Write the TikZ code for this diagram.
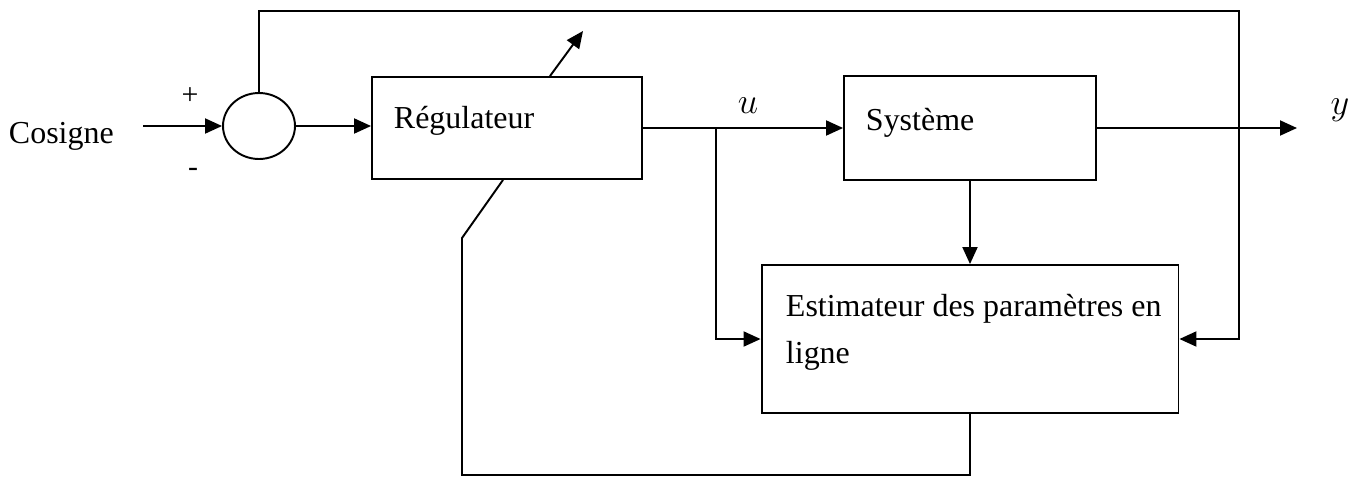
\documentclass[tikz,border=0pt]{standalone}
\usepackage{fontspec}
\setmainfont{Liberation Serif}
\usetikzlibrary{shapes.geometric,arrows.meta}
\tikzset{
  bloc/.style={draw, line width=1.1pt, fill=white, inner sep=0pt},
  txt/.style={anchor=base west, inner sep=0pt},
  fleche/.style={-{Triangle[length=0.34cm,width=0.3cm]}},
}
\begin{document}
\begin{tikzpicture}[x=0.02cm,y=-0.02cm,line width=1.1pt]
    \useasboundingbox (0,0) rectangle (1360,481);
    \fontsize{18.2}{24}\selectfont
    \node[draw,ellipse,minimum width=1.44cm,minimum height=1.32cm,inner sep=0pt] (sum) at (259,126){};
    \node[bloc,minimum width=5.4cm,minimum height=2.04cm] (reg) at (507,128){};
    \node[bloc,minimum width=5.04cm,minimum height=2.08cm] (sys) at (970,128){};
    \node[bloc,minimum width=8.34cm,minimum height=2.96cm] (est) at (970,339){};

    \node[txt] (cons) at (8,143){Cosigne};
    \node[txt] (regtxt) at (393,128){Régulateur};
    \node[txt] (systxt) at (865,130){Système};
    \node[txt] (esttxt) at (785,316){Estimateur des paramètres en};
    \node[txt] (esttxtb) at (785,363){ligne};
    \node[font=\fontsize{17}{19}\selectfont] (plus) at (190,96){+};
    \node[font=\fontsize{17}{19}\selectfont] (moins) at (193,172){-};
    \node[font=\fontsize{21}{24}\selectfont] (u) at (748,106){$u$};
    \node[font=\fontsize{21}{24}\selectfont] (y) at (1340,110){$y$};

    \coordinate (in) at (143,126);
    \coordinate (out) at (1297,128);
    \coordinate (br) at (716,128);
    \coordinate (haut) at (1239,11);
    \coordinate (bas) at (462,475);
    \coordinate (coude) at (462,238);
    \coordinate (reglage) at (583,31);

    \draw[fleche] (in) -- (sum.west);
    \draw[fleche] (sum.east) -- (sum.east -| reg.west);
    \draw[fleche] (reg.east) -- (sys.west);
    \draw[fleche] (sys.east) -- (out);
    \draw[fleche] (br) |- (est.west);
    \draw[fleche] (sys.south) -- (est.north);
    \draw[fleche] (sum.north) |- (haut) |- (est.east);
    \draw (est.south) |- (bas) -- (coude) -- ([xshift=-0.08cm]reg.south);
    \draw[fleche] ([xshift=0.86cm]reg.north) -- (reglage);
\end{tikzpicture}
\end{document}
